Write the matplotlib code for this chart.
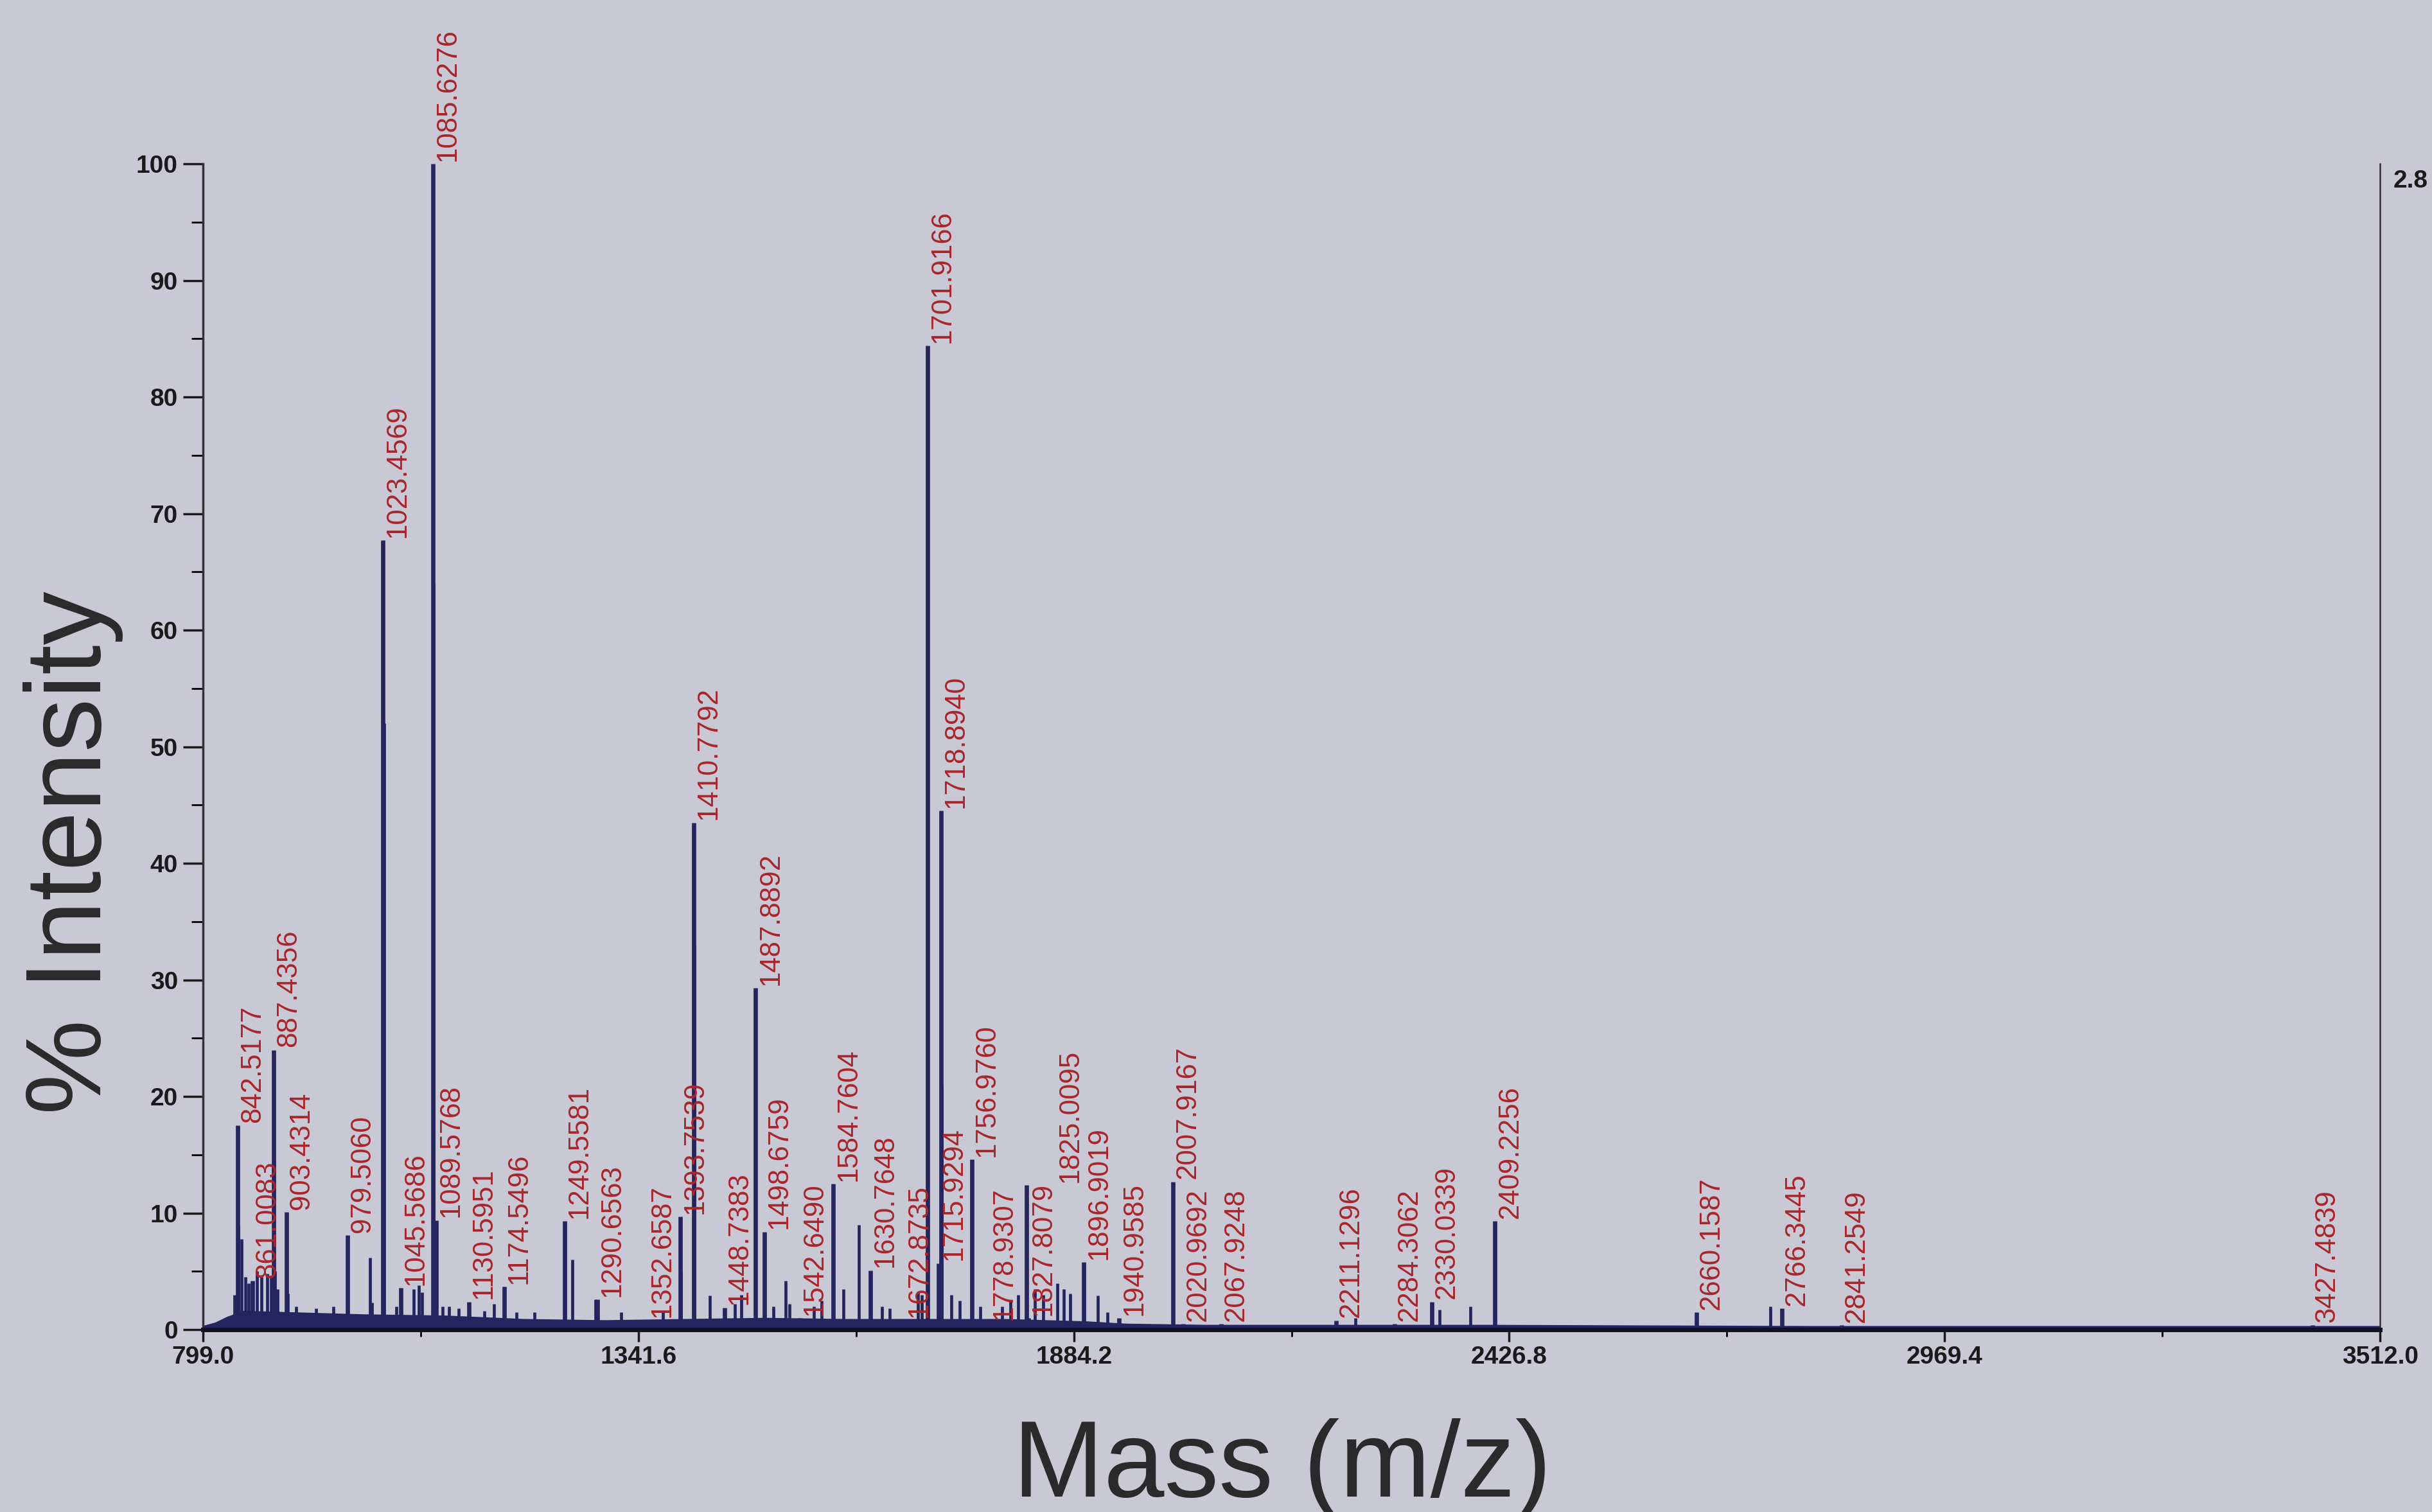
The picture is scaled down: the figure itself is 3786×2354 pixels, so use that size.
import matplotlib
matplotlib.use("Agg")
import matplotlib.pyplot as plt

# labelled peaks: m/z and % intensity
label_mz = [842.5177, 861.0083, 887.4356, 903.4314, 979.5060, 1023.4569, 1045.5686,
            1085.6276, 1089.5768, 1130.5951, 1174.5496, 1249.5581, 1290.6563, 1352.6587,
            1393.7539, 1410.7792, 1448.7383, 1487.8892, 1498.6759, 1542.6490, 1584.7604,
            1630.7648, 1672.8735, 1701.9166, 1715.9294, 1718.8940, 1756.9760, 1778.9307,
            1825.0095, 1827.8079, 1896.9019, 1940.9585, 2007.9167, 2020.9692, 2067.9248,
            2211.1296, 2284.3062, 2330.0339, 2409.2256, 2660.1587, 2766.3445, 2841.2549,
            3427.4839]
label_int = [17.5, 4.2, 24.0, 10.1, 8.1, 67.7, 3.6,
             100.0, 9.4, 2.4, 3.7, 9.3, 2.6, 0.8,
             9.7, 43.5, 1.9, 29.3, 8.4, 1.0, 12.5,
             5.1, 0.8, 84.4, 5.7, 44.5, 14.6, 0.6,
             12.4, 1.0, 5.8, 1.0, 12.7, 0.5, 0.5,
             0.8, 0.5, 2.4, 9.3, 1.5, 1.8, 0.4,
             0.4]

# unlabelled peaks (isotopes and small signals)
other_mz = [838.5, 843.5, 847.0, 852.0, 856.0, 866.0, 872.0, 879.0, 884.0, 888.4,
            892.0, 904.4, 915.0, 940.0, 962.0, 1007.0, 1010.0, 1024.5, 1040.0, 1062.0,
            1068.0, 1072.0, 1086.6, 1098.0, 1106.0, 1118.0, 1150.0, 1162.0, 1190.0, 1212.0,
            1259.6, 1288.0, 1320.0, 1372.0, 1394.8, 1411.8, 1431.0, 1462.0, 1470.0, 1510.0,
            1525.0, 1530.0, 1560.0, 1570.0, 1597.0, 1616.0, 1645.0, 1655.0, 1690.0, 1695.0,
            1719.9, 1732.0, 1742.0, 1768.0, 1795.0, 1805.0, 1815.0, 1836.0, 1846.0, 1864.0,
            1872.0, 1880.0, 1914.0, 1926.0, 2235.0, 2340.0, 2378.5, 2752.0]
other_int = [3.0, 8.9, 7.8, 4.5, 4.0, 5.0, 4.5, 4.8, 4.5, 5.0,
             3.5, 3.1, 2.0, 1.8, 2.0, 6.2, 2.3, 52.0, 2.0, 3.5,
             3.8, 3.2, 64.0, 2.0, 2.0, 1.8, 1.6, 2.2, 1.5, 1.5,
             6.0, 2.6, 1.5, 1.6, 5.1, 33.0, 2.9, 2.2, 3.0, 2.0,
             4.2, 2.2, 2.0, 2.5, 3.5, 9.0, 2.0, 1.8, 3.2, 3.0,
             21.0, 3.0, 2.5, 2.0, 2.0, 2.5, 3.0, 3.5, 3.0, 4.0,
             3.5, 3.1, 2.9, 1.5, 1.0, 1.7, 2.0, 2.0]

# chemical noise hump under the peaks
base_mz = [799, 815, 830, 850, 900, 1000, 1100, 1200, 1300, 1400,
           1500, 1600, 1700, 1800, 1900, 1950, 2050, 2400, 2800, 3512]
base_int = [0.2, 0.5, 1.0, 1.5, 1.4, 1.2, 1.1, 0.8, 0.7, 0.8,
            0.9, 0.8, 0.8, 0.8, 0.6, 0.4, 0.3, 0.3, 0.2, 0.2]

x_ticks = [799.0, 1341.6, 1884.2, 2426.8, 2969.4, 3512.0]
y_ticks = [0, 10, 20, 30, 40, 50, 60, 70, 80, 90, 100]
max_counts = "2.8"

BG = "#c8c9d4"
LINE = "#24245e"
RED = "#a8262c"
FONT = ["Liberation Sans", "DejaVu Sans"]

plt.rcParams["font.family"] = FONT

fig = plt.figure(figsize=(37.87, 23.54), dpi=100, facecolor=BG)
ax = fig.add_axes([0.0834, 0.1206, 0.895, 0.771])
ax.set_facecolor(BG)

# spectrum
ax.fill_between(base_mz, 0, base_int, color=LINE, lw=0)
ax.plot(base_mz, base_int, color=LINE, lw=3)
ax.vlines(other_mz, 0, other_int, color=LINE, lw=3.4)
ax.vlines(label_mz, 0, label_int, color=LINE, lw=4.8)

ax.set_xlim(799.0, 3512.0)
ax.set_ylim(0, 100)

labels = []
for mz, h in zip(label_mz, label_int):
    t = ax.annotate(f"{mz:.4f}", (mz, h), xytext=(2, 3), textcoords="offset points",
                    rotation=90, ha="left", va="bottom", color=RED, fontsize=31.5,
                    annotation_clip=False)
    labels.append((h, t))

# push colliding labels sideways, small peaks keep their place first
fig.canvas.draw()
renderer = fig.canvas.get_renderer()
placed = []
for h, t in sorted(labels, key=lambda p: p[0]):
    bb = t.get_window_extent(renderer)
    x0, x1, y0, y1 = bb.x0, bb.x1, bb.y0 - 4, bb.y1 + 4
    shift = 0.0
    for px0, px1, py0, py1 in placed:
        if y0 < py1 and y1 > py0 and x0 + shift < px1 and x1 + shift > px0:
            shift = px1 - x0 + 1
    if shift:
        dx, dy = t.get_position()
        t.set_position((dx + shift * 72 / fig.dpi, dy))
    placed.append((x0 + shift, x1 + shift, y0, y1))

ax.set_xticks(x_ticks)
ax.set_xticklabels([f"{t:.1f}" for t in x_ticks])
ax.set_xticks([(a + b) / 2 for a, b in zip(x_ticks[:-1], x_ticks[1:])], minor=True)
ax.set_yticks(y_ticks)
ax.set_yticks([v + 5 for v in y_ticks[:-1]], minor=True)

ax.tick_params(axis="x", which="major", length=14, width=2.5, direction="out",
               labelsize=28, pad=4, colors="#1a1a1a")
ax.tick_params(axis="x", which="minor", length=8, width=2, direction="out")
ax.tick_params(axis="y", which="major", length=22, width=2.5, direction="out",
               labelsize=28, pad=6, colors="#1a1a1a")
ax.tick_params(axis="y", which="minor", length=13, width=2, direction="out")
for lbl in ax.get_xticklabels() + ax.get_yticklabels():
    lbl.set_fontweight("bold")

ax.spines["top"].set_visible(False)
ax.spines["left"].set_color("#333333")
ax.spines["left"].set_linewidth(2.5)
ax.spines["right"].set_color("#333333")
ax.spines["right"].set_linewidth(1.8)
ax.spines["bottom"].set_color("#111122")
ax.spines["bottom"].set_linewidth(5)

ax.text(1.006, 0.985, max_counts, transform=ax.transAxes, ha="left", va="center",
        fontsize=28, fontweight="bold", color="#1a1a1a")

fig.text(0.030, 0.436, "% Intensity", rotation=90, ha="center", va="center",
         fontsize=120, color="#2a2a2a")
fig.text(0.527, 0.010, "Mass (m/z)", ha="center", va="baseline",
         fontsize=122, color="#2a2a2a")

fig.savefig("out.png", dpi=100, facecolor=BG)
